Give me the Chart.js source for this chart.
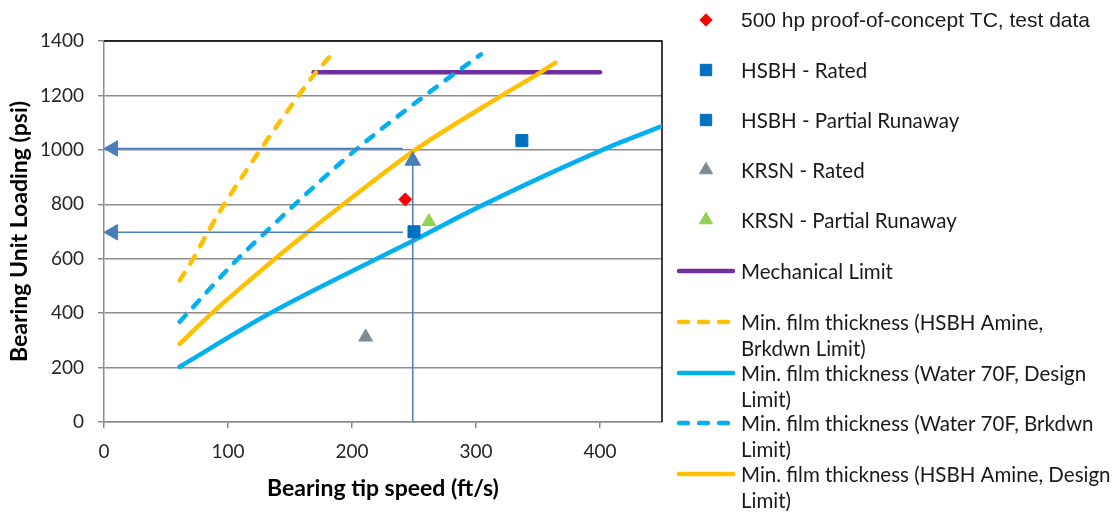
<!DOCTYPE html>
<html>
<head>
<meta charset="utf-8">
<script src="https://cdn.jsdelivr.net/npm/chart.js@4/dist/chart.umd.min.js"></script>
<style>
  html, body { margin: 0; padding: 0; background: #fff; }
  #wrap { width: 1113px; height: 512px; position: relative; }
</style>
</head>
<body>
<div id="wrap"><canvas id="bearingChart" width="1113" height="512"></canvas></div>
<script>
// tick labels
const speedTicks = [0, 100, 200, 300, 400];
const loadTicks = [0, 200, 400, 600, 800, 1000, 1200, 1400];

// test points
const testSpeed = [243];
const testLoad = [818];
const hsbhRatedSpeed = [250];
const hsbhRatedLoad = [699];
const hsbhRunawaySpeed = [337];
const hsbhRunawayLoad = [1034];
const krsnRatedSpeed = [211];
const krsnRatedLoad = [312];
const krsnRunawaySpeed = [262];
const krsnRunawayLoad = [736];

// limit curves
const mechSpeed = [169, 400];
const mechLoad = [1285, 1285];
const amineBrkSpeed = [61, 72, 84, 97, 126, 157, 171, 182];
const amineBrkLoad = [520, 600, 700, 800, 1000, 1200, 1285, 1342];
const waterDesignSpeed = [61, 132, 220, 250, 300, 402, 450];
const waterDesignLoad = [203, 395, 600, 668, 785, 1000, 1087];
const waterBrkSpeed = [61, 108, 131, 154, 203, 259, 304];
const waterBrkLoad = [368, 600, 700, 800, 1000, 1200, 1351];
const amineDesignSpeed = [61, 87, 138, 165, 193, 251, 321, 352, 364];
const amineDesignLoad = [287, 400, 600, 700, 800, 1000, 1200, 1285, 1320];

// arrows (annotation): start and head centre
const arrowHiSpeed = [241, 7.3];
const arrowHiLoad = [1005, 1005];
const arrowLoSpeed = [241, 7.3];
const arrowLoLoad = [697, 697];
const arrowUpSpeed = [249, 249];
const arrowUpLoad = [0, 960];

const legendLabels = [
  '500 hp proof-of-concept TC, test data',
  'HSBH - Rated',
  'HSBH - Partial Runaway',
  'KRSN - Rated',
  'KRSN - Partial Runaway',
  'Mechanical Limit',
  'Min. film thickness (HSBH Amine,|Brkdwn Limit)',
  'Min. film thickness (Water 70F, Design|Limit)',
  'Min. film thickness (Water 70F, Brkdwn|Limit)',
  'Min. film thickness (HSBH Amine, Design|Limit)'
];

function pts(xs, ys) {
  return xs.map((x, i) => ({x: x, y: ys[i]}));
}

const ORANGE = '#ffc000';
const SKY = '#00b0f0';
const ARROW = '#4a7ebb';
const FONT = 'Lato, "Open Sans", sans-serif';

function marker(label, data, style, color, r) {
  return {label: label, data: data, showLine: false, pointStyle: style, pointRadius: r,
    backgroundColor: color, borderColor: color, borderWidth: 1, legendKind: 'marker'};
}
function curve(label, data, color, dash) {
  return {label: label, data: data, showLine: true, borderColor: color, backgroundColor: color,
    borderWidth: 4.5, borderDash: dash, borderCapStyle: 'round', borderJoinStyle: 'round',
    pointRadius: 0, cubicInterpolationMode: 'monotone', legendKind: 'line'};
}
function arrow(data, rot) {
  return {label: '', data: data, showLine: true, borderColor: ARROW, backgroundColor: ARROW,
    borderWidth: 1.5, pointStyle: 'triangle', pointRadius: [0, 9], pointRotation: [0, rot],
    pointBorderWidth: 1, legendKind: 'none'};
}

const datasets = [
  marker(legendLabels[0], pts(testSpeed, testLoad), 'rectRot', '#ff0000', 6.5),
  marker(legendLabels[1], pts(hsbhRatedSpeed, hsbhRatedLoad), 'rect', '#0070c0', 8.5),
  marker(legendLabels[2], pts(hsbhRunawaySpeed, hsbhRunawayLoad), 'rect', '#0070c0', 8.5),
  marker(legendLabels[3], pts(krsnRatedSpeed, krsnRatedLoad), 'triangle', '#7f8c95', 8),
  marker(legendLabels[4], pts(krsnRunawaySpeed, krsnRunawayLoad), 'triangle', '#92d050', 8),
  arrow(pts(arrowUpSpeed, arrowUpLoad), 0),
  arrow(pts(arrowHiSpeed, arrowHiLoad), -90),
  arrow(pts(arrowLoSpeed, arrowLoLoad), -90),
  curve(legendLabels[9], pts(amineDesignSpeed, amineDesignLoad), ORANGE, []),
  curve(legendLabels[8], pts(waterBrkSpeed, waterBrkLoad), SKY, [9, 11]),
  curve(legendLabels[7], pts(waterDesignSpeed, waterDesignLoad), SKY, []),
  curve(legendLabels[6], pts(amineBrkSpeed, amineBrkLoad), ORANGE, [9, 11]),
  curve(legendLabels[5], pts(mechSpeed, mechLoad), '#7030a0', [])
];

// black frame on top/right of the plot area
const frame = {
  id: 'frame',
  beforeDatasetsDraw(chart) {
    const a = chart.chartArea, ctx = chart.ctx;
    ctx.save();
    ctx.strokeStyle = '#000';
    ctx.lineWidth = 1.5;
    ctx.beginPath();
    ctx.moveTo(a.left, a.top);
    ctx.lineTo(a.right, a.top);
    ctx.lineTo(a.right, a.bottom);
    ctx.stroke();
    ctx.restore();
  }
};

// legend to the right, same order as the original
const legendY = [20, 70, 120, 170, 220, 271, 322, 373, 423, 474];
const sideLegend = {
  id: 'sideLegend',
  afterDraw(chart) {
    const ctx = chart.ctx;
    ctx.save();
    legendLabels.forEach((lab, i) => {
      const ds = chart.data.datasets.find(d => d.label === lab);
      const y = legendY[i];
      if (ds.legendKind === 'marker') {
        ctx.fillStyle = ds.backgroundColor;
        ctx.strokeStyle = ds.borderColor;
        ctx.lineWidth = 1;
        Chart.helpers.drawPoint(ctx, {pointStyle: ds.pointStyle, radius: ds.pointRadius * 0.95,
          rotation: 0, borderWidth: 1}, 706, y);
      } else {
        ctx.strokeStyle = ds.borderColor;
        ctx.lineWidth = 4.5;
        ctx.lineCap = 'round';
        ctx.setLineDash(ds.borderDash.length ? [9, 11] : []);
        ctx.beginPath();
        ctx.moveTo(679, y);
        ctx.lineTo(733, y);
        ctx.stroke();
        ctx.setLineDash([]);
      }
      ctx.fillStyle = '#1a1a1a';
      ctx.textBaseline = 'middle';
      ctx.textAlign = 'left';
      ctx.font = i === 0 ? '21px "Liberation Sans", Arial, sans-serif' : '20.5px ' + FONT;
      lab.split('|').forEach((t, k) => ctx.fillText(t, 741, y + 1 + k * 26));
    });
    ctx.restore();
  }
};

new Chart(document.getElementById('bearingChart'), {
  type: 'scatter',
  data: {datasets: datasets},
  plugins: [frame, sideLegend],
  options: {
    responsive: false,
    animation: false,
    events: [],
    layout: {padding: {top: 41, right: 451, left: 0, bottom: 0}},
    plugins: {legend: {display: false}, tooltip: {enabled: false}},
    scales: {
      x: {
        type: 'linear', min: 0, max: 450,
        afterFit: s => { s.height = 90; },
        afterBuildTicks: s => { s.ticks = speedTicks.map(v => ({value: v})); },
        grid: {drawOnChartArea: false, drawTicks: true, tickLength: 6, color: '#8c8c8c', lineWidth: 1.5},
        border: {color: '#8c8c8c', width: 1.5},
        ticks: {color: '#262626', font: {family: FONT, size: 19}, padding: 12, callback: v => String(v)},
        title: {display: true, text: 'Bearing tip speed (ft/s)', color: '#000',
          font: {family: FONT, size: 23, weight: 'bold'}, padding: {top: 4, bottom: 10}}
      },
      y: {
        type: 'linear', min: 0, max: 1400,
        afterFit: s => { s.width = 104; },
        afterBuildTicks: s => { s.ticks = loadTicks.map(v => ({value: v})); },
        grid: {color: '#8c8c8c', lineWidth: 1.5, tickLength: 6},
        border: {color: '#8c8c8c', width: 1.5},
        ticks: {color: '#262626', font: {family: FONT, size: 19}, padding: 14, callback: v => String(v)},
        title: {display: true, text: 'Bearing Unit Loading (psi)', color: '#000',
          font: {family: FONT, size: 23, weight: 'bold'}, padding: {top: 6, bottom: 4}}
      }
    }
  }
});
</script>
</body>
</html>
